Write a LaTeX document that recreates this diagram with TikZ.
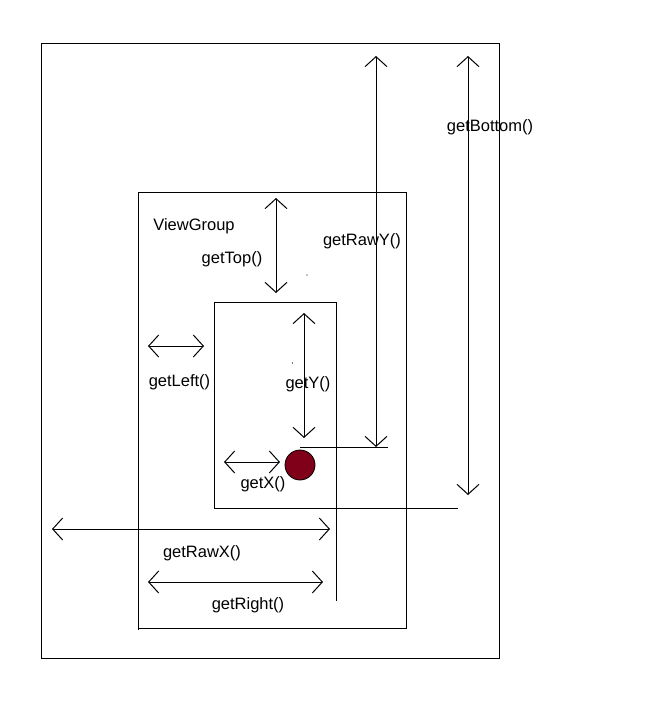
\documentclass[tikz,border=0pt]{standalone}
\usepackage{fontspec}
\setmainfont{Liberation Sans}
\usetikzlibrary{arrows.meta}
\definecolor{dotred}{RGB}{128,0,25}
\tikzset{
  box/.style={draw=black,line width=1pt},
  dim/.style={draw=black,line width=1pt,{Straight Barb[length=10pt,width=22pt,line width=1pt]}-{Straight Barb[length=10pt,width=22pt,line width=1pt]}},
  lbl/.style={anchor=base,inner sep=0pt,font=\fontsize{16.5}{19}\selectfont,text=black},
}
\begin{document}
\begin{tikzpicture}[x=1pt,y=-1pt]
\useasboundingbox (0,0) rectangle (660,715);
% rectangles
\draw[box] (41,43) rectangle (499,658);
\draw[box] (138,192) -- (406,192) -- (406,628) -- (138,628) -- cycle;
\draw[box] (138,628) -- (138,630);
\draw[box] (214,302) -- (336,302) -- (336,601);
\draw[box] (214,302) -- (214,508) -- (458,508);
% circle and its line
\coordinate (hl1) at (300,447);
\coordinate (hl2) at (388,447);
\draw[box] (hl1) -- (hl2);
\node[circle,draw=black,line width=0.8pt,fill=dotred,minimum size=30pt,inner sep=0pt] (pt) at (300,465) {};
% tiny dots
\fill (307,275) circle (0.7pt);
\fill (292.5,363) circle (0.7pt);
% arrow end points
\coordinate (ry1) at (376,56);  \coordinate (ry2) at (376,447);
\coordinate (bo1) at (468,56);  \coordinate (bo2) at (468,495);
\coordinate (tp1) at (276,198); \coordinate (tp2) at (276,293);
\coordinate (gy1) at (304,313); \coordinate (gy2) at (304,438);
\coordinate (gx1) at (224,462); \coordinate (gx2) at (280,462);
\coordinate (gl1) at (148,346); \coordinate (gl2) at (204,346);
\coordinate (rx1) at (52,529);  \coordinate (rx2) at (330,529);
\coordinate (rr1) at (148,582); \coordinate (rr2) at (323,582);
\draw[dim] (ry1) -- (ry2);
\draw[dim] (bo1) -- (bo2);
\draw[dim] (tp1) -- (tp2);
\draw[dim] (gy1) -- (gy2);
\draw[dim] (gx1) -- (gx2);
\draw[dim] (gl1) -- (gl2);
\draw[dim] (rx1) -- (rx2);
\draw[dim] (rr1) -- (rr2);
% labels
\node[lbl] (vg) at (194,230.7) {ViewGroup};
\node[lbl] (ltop) at (232,263.3) {getTop()};
\node[lbl] (lry) at (362,245) {getRawY()};
\node[lbl] (lbo) at (490,131.7) {getBottom()};
\node[lbl] (lle) at (179.5,386.7) {getLeft()};
\node[lbl] (lgy) at (308,388.3) {getY()};
\node[lbl] (lgx) at (263,488.3) {getX()};
\node[lbl] (lrx) at (202,557.3) {getRawX()};
\node[lbl] (lri) at (248,609.3) {getRight()};
\end{tikzpicture}
\end{document}
